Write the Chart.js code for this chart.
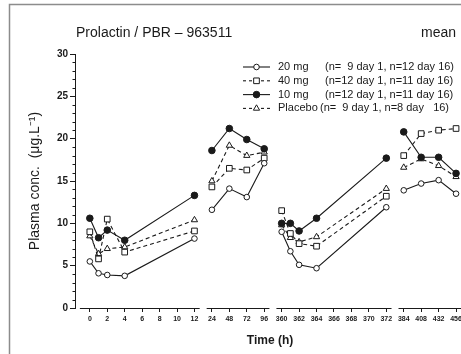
<!DOCTYPE html>
<html>
<head>
<meta charset="utf-8">
<script src="https://cdn.jsdelivr.net/npm/chart.js@4.4.1/dist/chart.umd.min.js"></script>
<style>
  html, body { margin: 0; padding: 0; background: #fff; }
  #wrap { position: relative; width: 461px; height: 354px; overflow: hidden; }
  #box { position: absolute; left: 0; top: 0; width: 490px; height: 354px; }
</style>
</head>
<body>
<div id="wrap"><div id="box"><canvas id="chart"></canvas></div></div>
<script>
// sampling times (h): day 1 and day 16
const times = [0, 1, 2, 4, 12, 24, 48, 72, 96, 360, 361, 362, 364, 372, 384, 408, 432, 456];

// mean plasma prolactin (ug/L) per group
const mg20 = [5.5, 4.1, 3.9, 3.8, 8.2, 11.6, 14.1, 13.1, 17.1, 9.0, 6.7, 5.1, 4.7, 11.9, 13.9, 14.7, 15.1, 13.5];
const mg40 = [9.0, 5.8, 10.5, 6.6, 9.1, 14.3, 16.5, 16.3, 17.7, 11.5, 8.8, 7.6, 7.3, 13.2, 18.0, 20.6, 21.0, 21.2];
const mg10 = [10.6, 8.3, 9.2, 8.0, 13.3, 18.6, 21.2, 19.9, 18.8, 10.0, 10.0, 9.1, 10.6, 17.7, 20.8, 17.8, 17.8, 15.9];
const placebo = [8.5, 6.4, 7.0, 7.2, 10.4, 15.0, 19.2, 18.0, 18.4, 9.8, 8.3, 7.8, 8.4, 14.1, 16.6, 17.6, 16.8, 15.5];

const tickLabels = ["0", "2", "4", "6", "8", "10", "12", "24", "48", "72", "96",
  "360", "362", "364", "366", "368", "370", "372", "384", "408", "432", "456"];

const ink = "#1a1a1a";
const sans = "'Liberation Sans', Arial, Helvetica, sans-serif";

// broken time axis: each piece puts its hours on evenly spaced tick slots
const pieces = [
  { from: 0, to: 12, slot: 0, per: 2 },
  { from: 24, to: 96, slot: 7, per: 24 },
  { from: 360, to: 372, slot: 11, per: 2 },
  { from: 384, to: 456, slot: 18, per: 24 },
];

function pieceOf(t) {
  return pieces.findIndex((p) => t >= p.from && t <= p.to);
}
function slotOf(t) {
  const p = pieces[pieceOf(t)];
  return p.slot + (t - p.from) / p.per;
}
function toPoints(values) {
  const pts = [];
  times.forEach((t, i) => {
    // null point so the line does not run across an axis break
    if (i > 0 && pieceOf(t) !== pieceOf(times[i - 1])) pts.push({ x: slotOf(t) - 0.5, y: null });
    pts.push({ x: slotOf(t), y: values[i] });
  });
  return pts;
}

const series = [
  { label: "20 mg", n: "(n=  9 day 1, n=12 day 16)", nx: 325, data: mg20, style: "circle", radius: 2.8, fill: "#fff", dash: [] },
  { label: "40 mg", n: "(n=12 day 1, n=11 day 16)", nx: 325, data: mg40, style: "rect", radius: 4, fill: "#fff", dash: [4, 3] },
  { label: "10 mg", n: "(n=12 day 1, n=11 day 16)", nx: 325, data: mg10, style: "circle", radius: 3.3, fill: ink, dash: [] },
  { label: "Placebo", n: "(n=  9 day 1, n=8 day   16)", nx: 320, data: placebo, style: "triangle", radius: 3.6, fill: "#fff", dash: [4, 3] },
];

// Frame, headings, broken x axis, minor ticks and the legend
const decor = {
  id: "decor",
  afterDraw(chart) {
    const { ctx, scales: { x, y } } = chart;
    ctx.save();

    ctx.strokeStyle = "#8c8c8c";
    ctx.lineWidth = 1.5;
    ctx.beginPath();
    ctx.moveTo(9.5, 354);
    ctx.lineTo(9.5, 4.5);
    ctx.lineTo(chart.width, 4.5);
    ctx.stroke();

    ctx.fillStyle = ink;
    ctx.font = "14px " + sans;
    ctx.textBaseline = "alphabetic";
    ctx.fillText("Prolactin / PBR \u2013 963511", 76, 37);
    ctx.fillText("mean", 421, 37);

    // x axis drawn piece by piece
    const y0 = Math.round(y.getPixelForValue(0)) + 0.5;
    ctx.strokeStyle = ink;
    ctx.lineWidth = 1;
    pieces.forEach((p, i) => {
      const first = p.slot;
      const last = p.slot + (p.to - p.from) / p.per;
      ctx.beginPath();
      ctx.moveTo(x.getPixelForValue(first - (i === 0 ? 0.57 : 0.3)), y0);
      ctx.lineTo(x.getPixelForValue(last + 0.3), y0);
      ctx.stroke();
    });

    // minor y ticks every unit
    for (let v = 1; v < 30; v++) {
      if (v % 5 === 0) continue;
      const py = Math.round(y.getPixelForValue(v)) + 0.5;
      ctx.beginPath();
      ctx.moveTo(x.left - 2.5, py);
      ctx.lineTo(x.left, py);
      ctx.stroke();
    }

    ctx.font = "bold 12px " + sans;
    ctx.textAlign = "center";
    ctx.textBaseline = "middle";
    ctx.fillText("Time (h)", 270, 341);

    // legend
    ctx.font = "11px " + sans;
    ctx.textAlign = "left";
    series.forEach((s, i) => {
      const ly = 67 + i * 13.8;
      ctx.setLineDash(s.dash.length ? [3, 3] : []);
      ctx.lineWidth = 1.1;
      ctx.beginPath();
      ctx.moveTo(243, ly);
      ctx.lineTo(270, ly);
      ctx.stroke();
      ctx.setLineDash([]);
      ctx.fillStyle = s.fill;
      ctx.lineWidth = 1;
      Chart.helpers.drawPoint(ctx, { pointStyle: s.style, radius: s.radius, borderWidth: 1, rotation: 0 }, 256.5, ly);
      ctx.fillStyle = ink;
      ctx.fillText(s.label, 278, ly);
      ctx.fillText(s.n, s.nx, ly);
    });

    ctx.restore();
  },
};

new Chart(document.getElementById("chart"), {
  type: "line",
  data: {
    datasets: series.map((s) => ({
      label: s.label,
      data: toPoints(s.data),
      borderColor: ink,
      borderWidth: 1.1,
      borderDash: s.dash,
      pointStyle: s.style,
      pointRadius: s.radius,
      pointBackgroundColor: s.fill,
      pointBorderColor: ink,
      pointBorderWidth: 1,
      spanGaps: false,
      tension: 0,
    })),
  },
  options: {
    responsive: true,
    maintainAspectRatio: false,
    animation: false,
    layout: { padding: { top: 54, left: 0, right: 0, bottom: 0 } },
    plugins: { legend: { display: false }, tooltip: { enabled: false } },
    scales: {
      x: {
        type: "linear",
        min: -0.85,
        max: 22.66,
        afterBuildTicks: (s) => {
          s.ticks = tickLabels.map((_, i) => ({ value: i }));
        },
        afterFit: (s) => {
          s.height = 46;
        },
        border: { display: false },
        grid: { drawOnChartArea: false, tickLength: 4, color: ink },
        ticks: {
          callback: (v, i) => tickLabels[i],
          autoSkip: false,
          maxRotation: 0,
          padding: 3,
          color: ink,
          font: { family: sans, size: 7, weight: "bold" },
        },
      },
      y: {
        min: 0,
        max: 30,
        afterFit: (s) => {
          s.width = 75;
        },
        border: { display: true, color: ink, width: 1 },
        grid: { drawOnChartArea: false, tickLength: 5, color: ink },
        ticks: {
          stepSize: 5,
          padding: 2,
          color: ink,
          font: { family: sans, size: 10, weight: "bold" },
        },
        title: {
          display: true,
          text: "Plasma conc.  (\u03bcg.L\u207b\u00b9)",
          color: ink,
          padding: { top: 27, bottom: 0 },
          font: { family: sans, size: 14 },
        },
      },
    },
  },
  plugins: [decor],
});
</script>
</body>
</html>
